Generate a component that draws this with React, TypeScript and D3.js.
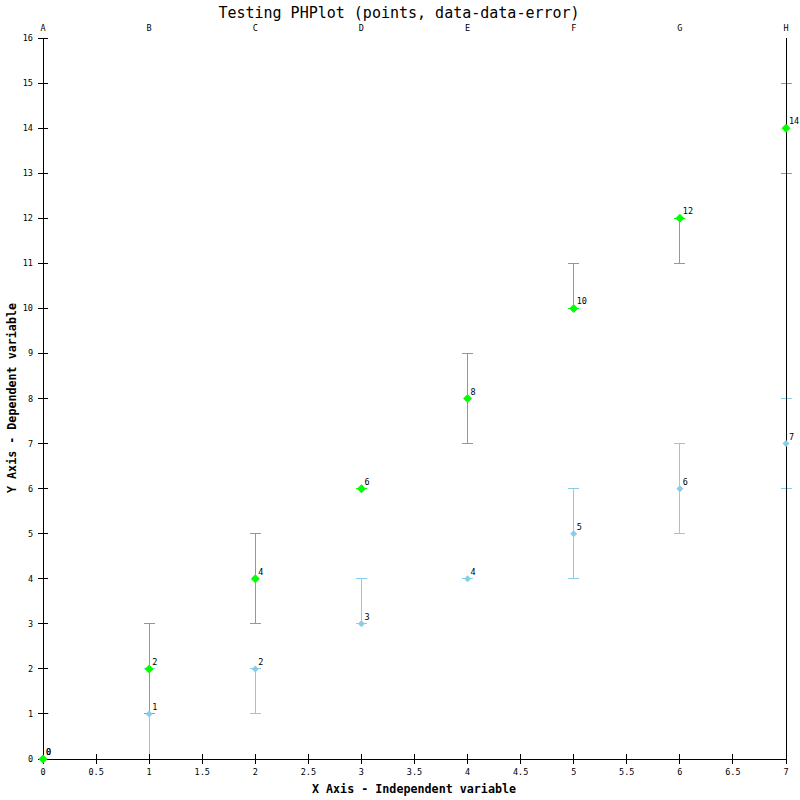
import React from "react";
import * as d3 from "d3";

const categories = ["A", "B", "C", "D", "E", "F", "G", "H"];
const xValues = [0, 1, 2, 3, 4, 5, 6, 7];
const greenY = [0, 2, 4, 6, 8, 10, 12, 14];
const greenPlus = [0, 1, 1, 0, 1, 1, 0, 1];
const greenMinus = [0, 1, 1, 0, 1, 0, 1, 1];
const blueY = [0, 1, 2, 3, 4, 5, 6, 7];
const bluePlus = [1, 1, 0, 1, 0, 1, 1, 1];
const blueMinus = [0, 1, 1, 0, 0, 1, 1, 1];
const yTicks = d3.range(0, 17, 1);
const xTicks = d3.range(0, 7.01, 0.5);

const GREEN = "#00ff00";
const BLUE = "#87ceeb";
const MONO = "'DejaVu Sans Mono', 'Liberation Mono', monospace";

export default function App() {
  const W = 800, H = 800;
  const x = d3.scaleLinear().domain([0, 7]).range([43, 786]);
  const y = d3.scaleLinear().domain([0, 16]).range([759, 38]);
  const green = { ys: greenY, plus: greenPlus, minus: greenMinus, color: GREEN, r: 4.5 };
  const blue = { ys: blueY, plus: bluePlus, minus: blueMinus, color: BLUE, r: 3.5 };
  const series = [green, blue];
  const diamond = (cx: number, cy: number, r: number) =>
    `M${cx},${cy - r}L${cx + r},${cy}L${cx},${cy + r}L${cx - r},${cy}Z`;
  const cap = 5.5;

  return (
    <svg width={W} height={H} style={{ position: "absolute", left: 0, top: 0, background: "#fff" }}>
      <rect x={0} y={0} width={W} height={H} fill="#fff" />
      <text x={399} y={13} textAnchor="middle" dominantBaseline="central" fontFamily={MONO} fontSize={15}>
        Testing PHPlot (points, data-data-error)
      </text>
      {categories.map((c, i) => (
        <text key={c} x={x(xValues[i])} y={28} textAnchor="middle" dominantBaseline="central" fontFamily={MONO} fontSize={8.5}>
          {c}
        </text>
      ))}
      {/* error bars: blue first, then green */}
      <g shapeRendering="crispEdges">
        {[blue, green].map((s, si) =>
          xValues.map((xv, i) => {
            const cx = x(xv);
            const top = y(s.ys[i] + s.plus[i]);
            const bot = y(s.ys[i] - s.minus[i]);
            return (
              <g key={`e${si}-${i}`} stroke={s.color} strokeWidth={1}>
                <line x1={cx} x2={cx} y1={top} y2={bot} />
                <line x1={cx - cap} x2={cx + cap} y1={top} y2={top} />
                <line x1={cx - cap} x2={cx + cap} y1={bot} y2={bot} />
              </g>
            );
          })
        )}
      </g>
      {/* axes */}
      <g shapeRendering="crispEdges" stroke="#000" strokeWidth={1}>
        <line x1={x(0)} x2={x(0)} y1={y(16)} y2={y(0)} />
        <line x1={x(7)} x2={x(7)} y1={y(16)} y2={y(0)} />
        <line x1={x(0)} x2={x(7)} y1={y(0)} y2={y(0)} />
        {yTicks.map((t) => (
          <line key={"yt" + t} x1={x(0) - 5} x2={x(0) + 5} y1={y(t)} y2={y(t)} />
        ))}
        {xTicks.map((t) => (
          <line key={"xt" + t} x1={x(t)} x2={x(t)} y1={y(0) - 5} y2={y(0) + 5} />
        ))}
      </g>
      {yTicks.map((t) => (
        <text key={"yl" + t} x={33} y={y(t)} textAnchor="end" dominantBaseline="central" fontFamily={MONO} fontSize={8.5}>
          {t}
        </text>
      ))}
      {xTicks.map((t) => (
        <text key={"xl" + t} x={x(t)} y={772} textAnchor="middle" dominantBaseline="central" fontFamily={MONO} fontSize={8.5}>
          {String(t)}
        </text>
      ))}
      {/* points: blue first, then green */}
      {[blue, green].map((s, si) =>
        xValues.map((xv, i) => (
          <path key={`p${si}-${i}`} d={diamond(x(xv), y(s.ys[i]), s.r)} fill={s.color} />
        ))
      )}
      {/* data labels */}
      {series.map((s, si) =>
        xValues.map((xv, i) => (
          <text key={`l${si}-${i}`} x={x(xv) + 3} y={y(s.ys[i]) - 7} textAnchor="start" dominantBaseline="central" fontFamily={MONO} fontSize={8.5}>
            {s.ys[i]}
          </text>
        ))
      )}
      <text x={414} y={789} textAnchor="middle" dominantBaseline="central" fontFamily={MONO} fontSize={11.7} fontWeight="bold">
        X Axis - Independent variable
      </text>
      <text transform={`translate(12,398) rotate(-90)`} textAnchor="middle" dominantBaseline="central" fontFamily={MONO} fontSize={11.7} fontWeight="bold">
        Y Axis - Dependent variable
      </text>
    </svg>
  );
}
